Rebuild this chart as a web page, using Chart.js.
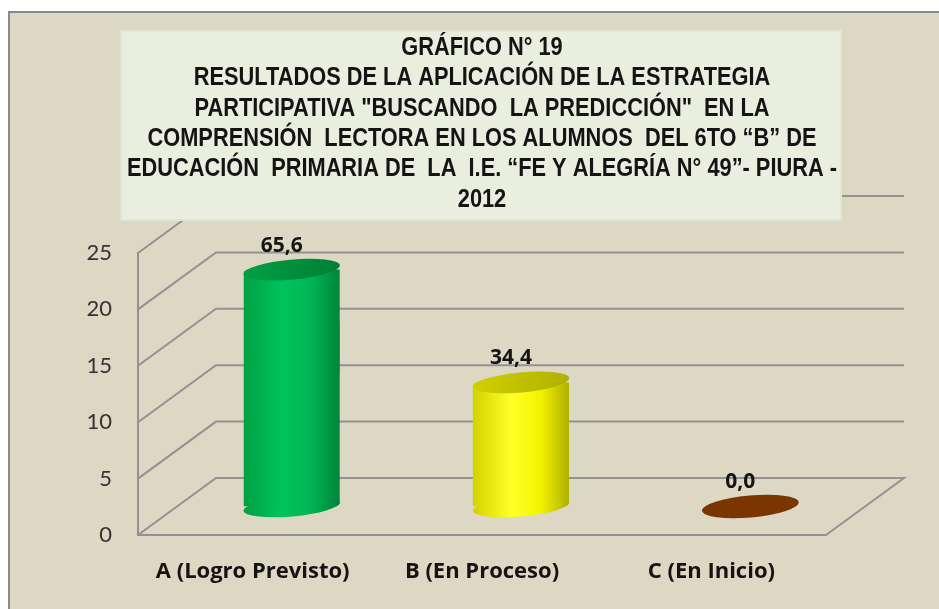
<!DOCTYPE html>
<html><head><meta charset="utf-8">
<script src="https://cdn.jsdelivr.net/npm/chart.js@4.4.1/dist/chart.umd.min.js"></script>
<style>html,body{margin:0;padding:0;background:#fff;}#wrap{position:relative;width:939px;height:609px;}</style>
</head><body><div id="wrap"><canvas id="c" width="939" height="609"></canvas></div>
<script>
const categories = ['A (Logro Previsto)', 'B (En Proceso)', 'C (En Inicio)'];
const studentCounts = [21, 11, 0];
const percentLabels = ['65,6', '34,4', '0,0'];
const yTicks = [0, 5, 10, 15, 20, 25];
const titleLines = [
  'GRÁFICO N° 19',
  'RESULTADOS DE LA APLICACIÓN DE LA ESTRATEGIA',
  'PARTICIPATIVA "BUSCANDO  LA PREDICCIÓN"  EN LA',
  'COMPRENSIÓN  LECTORA EN LOS ALUMNOS  DEL 6TO “B” DE',
  'EDUCACIÓN  PRIMARIA DE  LA  I.E. “FE Y ALEGRÍA N° 49”- PIURA -',
  '2012'
];
const bodyStops = [
  [['#00A044', 0], ['#00C35C', 0.4], ['#00B553', 0.7], ['#00843A', 1]],
  [['#D2D200', 0], ['#FFFF2A', 0.4], ['#F4F400', 0.7], ['#AFAF00', 1]],
  [['#7A3500', 0], ['#7A3500', 1]]
];
const topColors = [['#00A044', '#007F36'], ['#D0D000', '#B0B000'], ['#7A3500', '#7A3500']];

const DX = 78, DY = -57, TILT = 0.09, RY = 10;

function bodyGradient(ctx, chart, i) {
  const xs = chart.scales && chart.scales.x;
  if (!xs) return bodyStops[i][0][0];
  const w = (xs.right - xs.left) / categories.length * 0.42;
  const cx = xs.getPixelForValue(i);
  if (!isFinite(w) || !isFinite(cx) || w <= 0) return bodyStops[i][0][0];
  const g = ctx.createLinearGradient(cx - w / 2, 0, cx + w / 2, 0);
  bodyStops[i].forEach(s => g.addColorStop(s[1], s[0]));
  return g;
}

const depthPlugin = {
  id: 'depth3d',
  beforeDraw(chart) {
    const ctx = chart.ctx;
    ctx.save();
    ctx.fillStyle = '#ffffff';
    ctx.fillRect(0, 0, chart.width, chart.height);
    ctx.fillStyle = '#DDD8C3';
    ctx.fillRect(10, 13, chart.width - 10, chart.height - 13);
    ctx.strokeStyle = '#8a8a8a';
    ctx.lineWidth = 2;
    ctx.beginPath();
    ctx.moveTo(9, chart.height); ctx.lineTo(9, 12); ctx.lineTo(chart.width, 12);
    ctx.stroke();
    ctx.restore();
  },
  beforeDatasetsDraw(chart) {
    const ctx = chart.ctx, ys = chart.scales.y, a = chart.chartArea;
    ctx.save();
    ctx.strokeStyle = '#929292';
    ctx.lineWidth = 2;
    yTicks.forEach(v => {
      const y = ys.getPixelForValue(v);
      ctx.beginPath();
      ctx.moveTo(a.left, y);
      ctx.lineTo(a.left + DX, y + DY);
      ctx.lineTo(a.right + DX, y + DY);
      if (v === 0) ctx.lineTo(a.right, y);
      ctx.stroke();
    });
    ctx.fillStyle = '#EAEEDE';
    ctx.fillRect(120, 30, 722, 191);
    ctx.strokeStyle = '#E1E6D2';
    ctx.lineWidth = 2;
    ctx.strokeRect(121, 31, 720, 189);
    const meta = chart.getDatasetMeta(0);
    ctx.translate(DX / 2, DY / 2);
    meta.data.forEach((el, i) => {
      const p = el.getProps(['x', 'y', 'base', 'width']);
      const rx = p.width / 2 / Math.cos(TILT);
      ctx.fillStyle = bodyGradient(ctx, chart, i);
      ctx.beginPath();
      ctx.ellipse(p.x, p.base, rx, RY, -TILT, 0, Math.PI * 2);
      ctx.fill();
    });
    ctx.beginPath();
    meta.data.forEach((el) => {
      const p = el.getProps(['x', 'y', 'base', 'width']);
      if (p.base - p.y < 1) return;
      const rx = p.width / 2 / Math.cos(TILT);
      ctx.ellipse(p.x, p.y, rx, RY, -TILT, Math.PI, Math.PI * 2, false);
      ctx.ellipse(p.x, p.base, rx, RY, -TILT, 0, Math.PI, false);
      ctx.closePath();
    });
    ctx.clip();
  },
  afterDatasetsDraw(chart) {
    const ctx = chart.ctx;
    ctx.restore();
    const meta = chart.getDatasetMeta(0);
    ctx.save();
    ctx.translate(DX / 2, DY / 2);
    meta.data.forEach((el, i) => {
      const p = el.getProps(['x', 'y', 'base', 'width']);
      const rx = p.width / 2 / Math.cos(TILT);
      const g = ctx.createLinearGradient(p.x - rx, 0, p.x + rx, 0);
      g.addColorStop(0, topColors[i][0]);
      g.addColorStop(1, topColors[i][1]);
      ctx.fillStyle = g;
      ctx.beginPath();
      ctx.ellipse(p.x, p.y, rx, RY + (i === 2 ? 1 : 0), -TILT, 0, Math.PI * 2);
      ctx.fill();
      ctx.fillStyle = '#141414';
      ctx.font = 'bold 21px "Open Sans", Lato, sans-serif';
      ctx.textAlign = 'center';
      ctx.textBaseline = 'middle';
      ctx.fillText(percentLabels[i], p.x - 10, p.y - 24);
    });
    ctx.restore();
  },
  afterDraw(chart) {
    const ctx = chart.ctx;
    ctx.save();
    ctx.fillStyle = '#141414';
    ctx.font = 'bold 25px "Liberation Sans Narrow", "Liberation Sans", Arial, sans-serif';
    ctx.textAlign = 'center';
    ctx.textBaseline = 'middle';
    const cx = 482, sx = 0.872;
    ctx.translate(cx, 0);
    ctx.scale(sx, 1);
    titleLines.forEach((t, i) => ctx.fillText(t, 0, 48 + i * 30.4));
    ctx.restore();
  }
};

new Chart(document.getElementById('c'), {
  type: 'bar',
  data: {
    labels: categories,
    datasets: [{
      data: studentCounts,
      backgroundColor: (c) => bodyGradient(c.chart.ctx, c.chart, c.dataIndex),
      borderWidth: 0,
      barPercentage: 0.42,
      categoryPercentage: 1
    }]
  },
  options: {
    responsive: false,
    animation: false,
    devicePixelRatio: 1,
    layout: { padding: { top: 253, left: 0, right: 113, bottom: 0 } },
    plugins: { legend: { display: false }, title: { display: false }, tooltip: { enabled: false } },
    scales: {
      x: {
        grid: { display: false, drawTicks: false },
        border: { display: true, color: '#929292', width: 2 },
        ticks: { padding: 24, color: '#141414', font: { family: '"Open Sans", Lato, sans-serif', size: 22, weight: 'bold' } },
        afterFit(s) { s.height = 74; }
      },
      y: {
        min: 0, max: 25,
        afterBuildTicks(s) { s.ticks = yTicks.map(v => ({ value: v })); },
        grid: { display: false, drawTicks: false },
        border: { display: true, color: '#929292', width: 2 },
        ticks: { padding: 26, color: '#333333', font: { family: 'Lato, "Open Sans", sans-serif', size: 22 } },
        afterFit(s) { s.width = 138; }
      }
    }
  },
  plugins: [depthPlugin]
});
</script></body></html>
